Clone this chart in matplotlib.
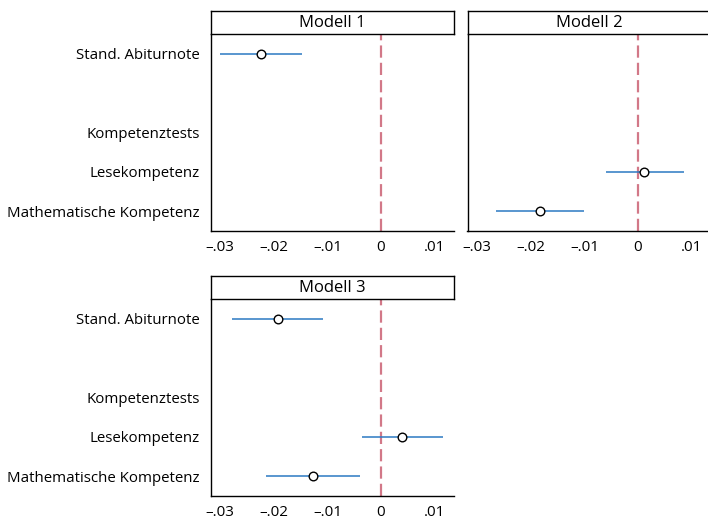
import numpy as np
import matplotlib.pyplot as plt

# Koeffizienten und 95%-KI je Modell (NaN = nicht im Modell / Zwischenüberschrift)
terms = ['Stand. Abiturnote', '', 'Kompetenztests', 'Lesekompetenz', 'Mathematische Kompetenz']
nan = np.nan

m1_coef = [-0.0224, nan, nan, nan, nan]
m1_lo = [-0.0300, nan, nan, nan, nan]
m1_hi = [-0.0147, nan, nan, nan, nan]

m2_coef = [nan, nan, nan, 0.0012, -0.0182]
m2_lo = [nan, nan, nan, -0.0060, -0.0265]
m2_hi = [nan, nan, nan, 0.0085, -0.0100]

m3_coef = [-0.0193, nan, nan, 0.0039, -0.0127]
m3_lo = [-0.0277, nan, nan, -0.0035, -0.0215]
m3_hi = [-0.0108, nan, nan, 0.0116, -0.0039]

titles = ['Modell 1', 'Modell 2', 'Modell 3']
xticks = [-0.03, -0.02, -0.01, 0, 0.01]
xticklabels = ['\u2013.03', '\u2013.02', '\u2013.01', '0', '.01']

plt.rcParams['font.family'] = ['Open Sans', 'DejaVu Sans']

W, H = 708, 520
fig = plt.figure(figsize=(W / 100, H / 100), dpi=100)


def px_rect(x0, y0, x1, y1):
    return [x0 / W, 1 - y1 / H, (x1 - x0) / W, (y1 - y0) / H]


def draw_panel(rect, strip, title, coef, lo, hi, show_labels):
    ax = fig.add_axes(px_rect(*rect))
    y = np.arange(len(terms))
    coef = np.array(coef)
    lo = np.array(lo)
    hi = np.array(hi)
    ok = ~np.isnan(coef)
    ax.axvline(0, color='#d27888', lw=1.6, ls=(0, (5.5, 2.3)), zorder=1)
    ax.hlines(y[ok], lo[ok], hi[ok], color='#2b79c2', lw=1.1, zorder=2)
    ax.plot(coef[ok], y[ok], 'o', mfc='white', mec='black', ms=6.2, mew=1.0, zorder=3)
    ax.set_xlim(-0.0318, 0.0136)
    ax.set_ylim(len(terms) - 0.5, -0.5)
    ax.set_xticks(xticks)
    ax.set_xticklabels(xticklabels, fontsize=11)
    ax.set_yticks(y)
    if show_labels:
        ax.set_yticklabels(terms, fontsize=10.8)
    else:
        ax.set_yticklabels([])
    ax.tick_params(axis='both', length=0)
    ax.tick_params(axis='x', pad=6.5)
    ax.tick_params(axis='y', pad=7.5)
    for side in ['top', 'right']:
        ax.spines[side].set_visible(False)
    for side in ['left', 'bottom']:
        ax.spines[side].set_linewidth(1.0)

    sx = fig.add_axes(px_rect(*strip))
    sx.set_xticks([])
    sx.set_yticks([])
    for s in sx.spines.values():
        s.set_linewidth(1.0)
    sx.text(0.5, 0.47, title, ha='center', va='center', fontsize=12, transform=sx.transAxes)
    return ax


draw_panel((210.5, 34, 454, 231), (210.5, 11, 454, 34), titles[0], m1_coef, m1_lo, m1_hi, True)
draw_panel((467.5, 34, 711, 231), (467.5, 11, 711, 34), titles[1], m2_coef, m2_lo, m2_hi, False)
draw_panel((210.5, 299, 454, 496), (210.5, 276, 454, 299), titles[2], m3_coef, m3_lo, m3_hi, True)

fig.savefig('out.png', dpi=100)
